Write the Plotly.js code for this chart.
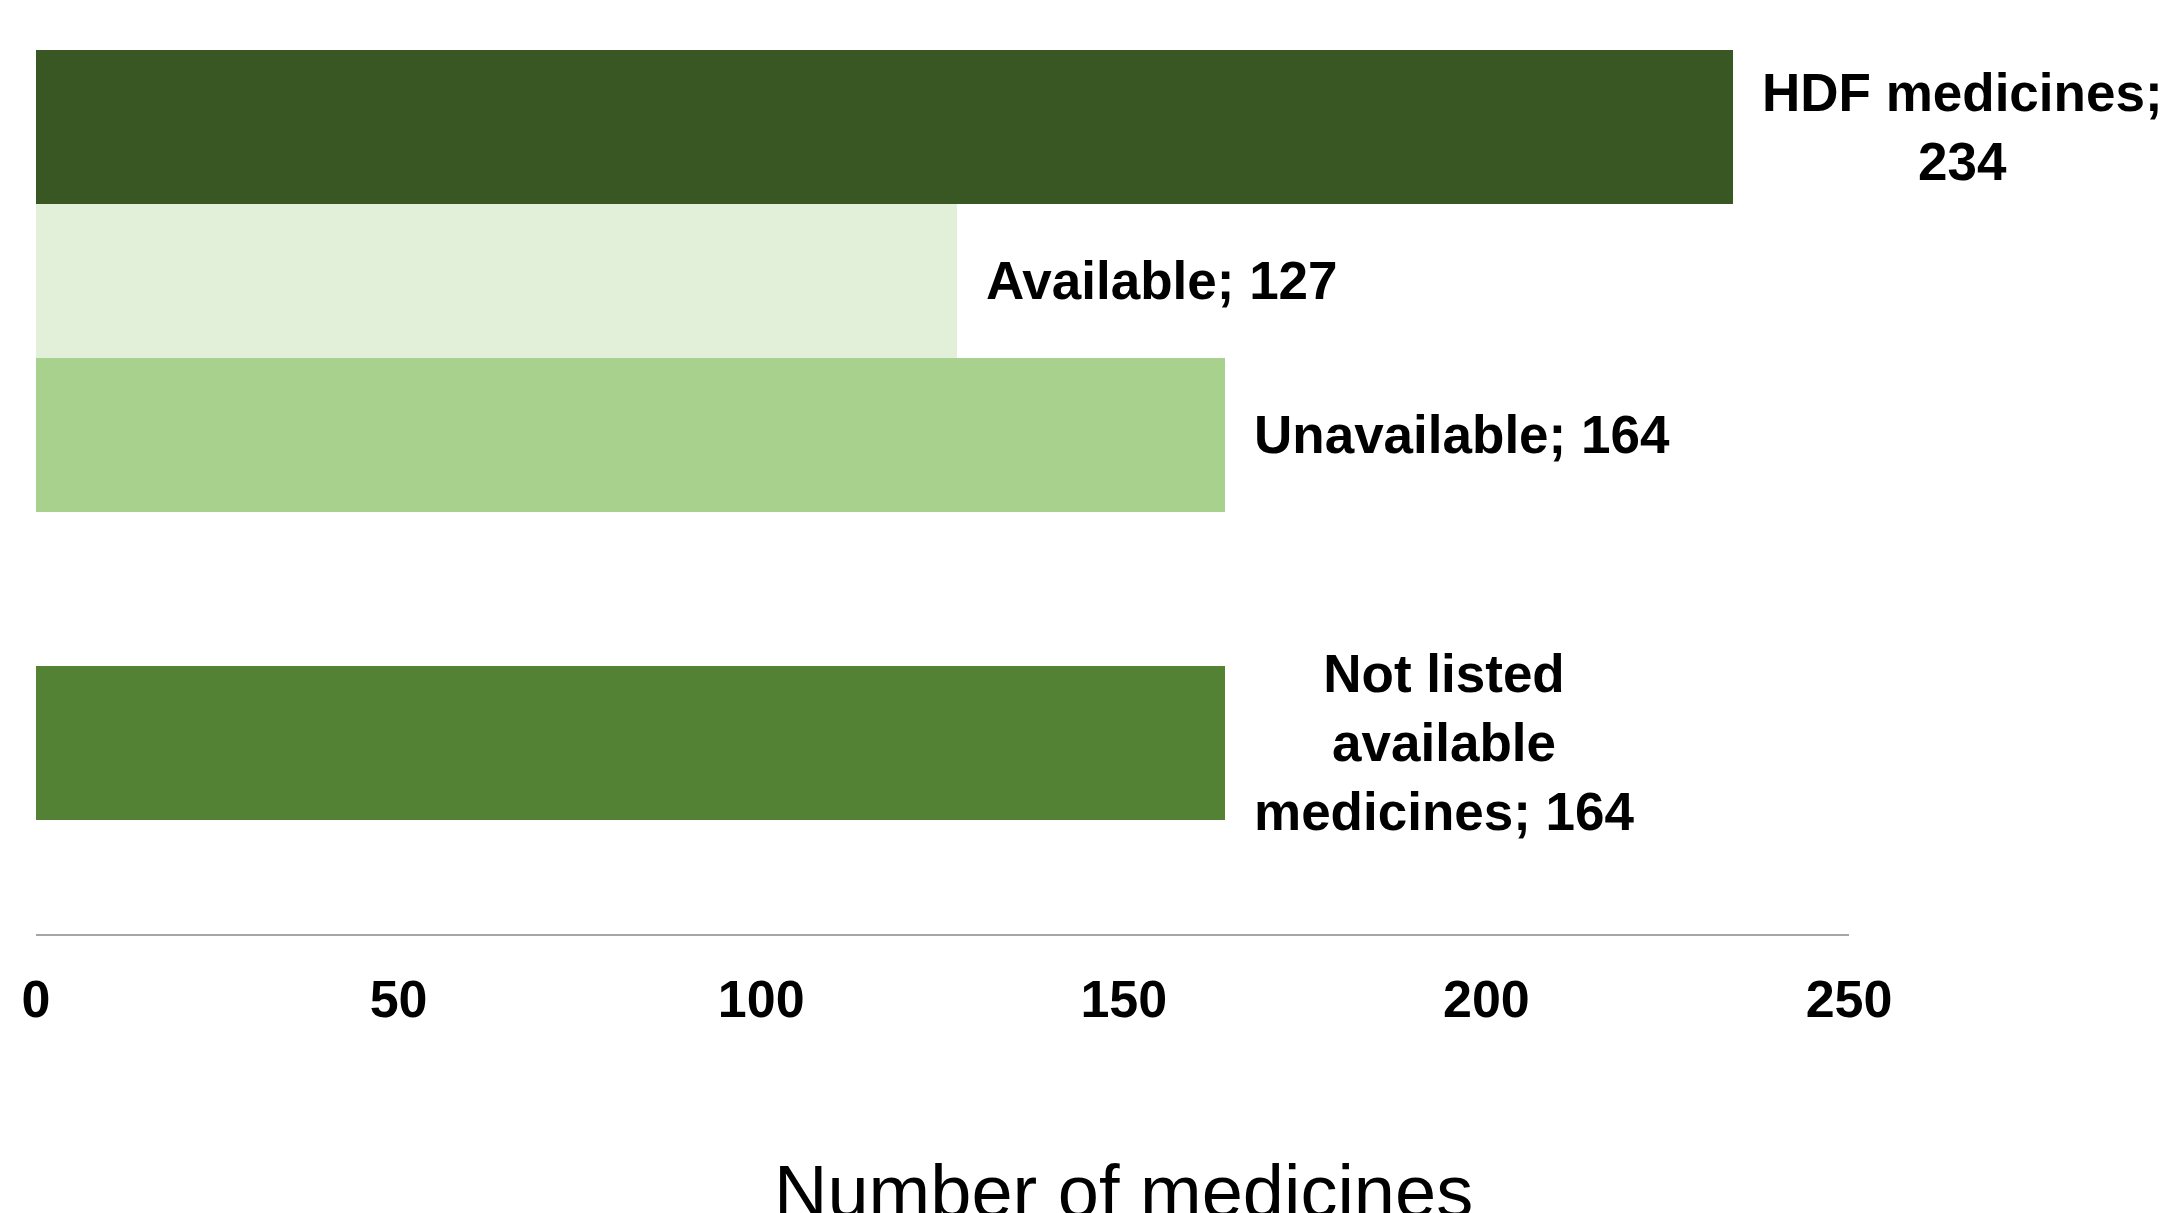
<!DOCTYPE html>
<html>
<head>
<meta charset="utf-8">
<script src="https://cdn.plot.ly/plotly-3.0.1.min.js"></script>
<style>
  html, body { margin: 0; padding: 0; background: #ffffff; }
  #chart { width: 2176px; height: 1213px; }
</style>
</head>
<body>
<div id="chart"></div>
<script>
// ---- data ----
const categories = ["HDF medicines", "Available", "Unavailable", "Not listed available medicines"];
const values = [234, 127, 164, 164];
const labels = ["HDF medicines;<br>234", "Available; 127", "Unavailable; 164", "Not listed<br>available<br>medicines; 164"];
const colors = ["#385723", "#E2EFD9", "#A9D18E", "#548235"];
const categoryOrder = ["HDF medicines", "Available", "Unavailable", " ", "Not listed available medicines"];
const xTicks = [0, 50, 100, 150, 200, 250];
const xTitle = "Number of medicines";

const FONT = "Liberation Sans, Arial, sans-serif";

const trace = {
  type: "bar",
  orientation: "h",
  x: values,
  y: categories,
  marker: { color: colors, line: { width: 0 } },
  width: 1,
  hoverinfo: "x+y",
  showlegend: false
};

const annotations = categories.map((c, i) => ({
  x: values[i],
  y: c,
  xref: "x",
  yref: "y",
  text: "<b>" + labels[i] + "</b>",
  showarrow: false,
  xanchor: "left",
  yanchor: "middle",
  align: "center",
  xshift: 27,
  font: { family: FONT, size: 53, color: "#000000" }
}));

annotations.push({
  xref: "paper",
  yref: "paper",
  x: (1123 - 36) / 1813,
  y: 0,
  xanchor: "center",
  yanchor: "middle",
  yshift: -257,
  showarrow: false,
  text: xTitle,
  font: { family: FONT, size: 74, color: "#000000" }
});

const layout = {
  width: 2176,
  height: 1213,
  margin: { l: 36, r: 327, t: 10, b: 279, pad: 0 },
  paper_bgcolor: "#ffffff",
  plot_bgcolor: "#ffffff",
  bargap: 0,
  xaxis: {
    range: [0, 250],
    tickvals: xTicks,
    ticktext: xTicks.map(v => "<b>" + v + "</b>"),
    showgrid: false,
    zeroline: false,
    showline: true,
    linecolor: "#a6a6a6",
    linewidth: 2,
    ticks: "",
    ticklabelstandoff: 19,
    tickfont: { family: FONT, size: 52, color: "#000000" },
    fixedrange: true
  },
  yaxis: {
    type: "category",
    categoryorder: "array",
    categoryarray: categoryOrder,
    range: [5.244, -0.760],
    showticklabels: false,
    showgrid: false,
    zeroline: false,
    showline: false,
    ticks: "",
    fixedrange: true
  },
  annotations: annotations,
  font: { family: FONT, color: "#000000" }
};

Plotly.newPlot("chart", [trace], layout, { displayModeBar: false, staticPlot: true });
</script>
</body>
</html>
